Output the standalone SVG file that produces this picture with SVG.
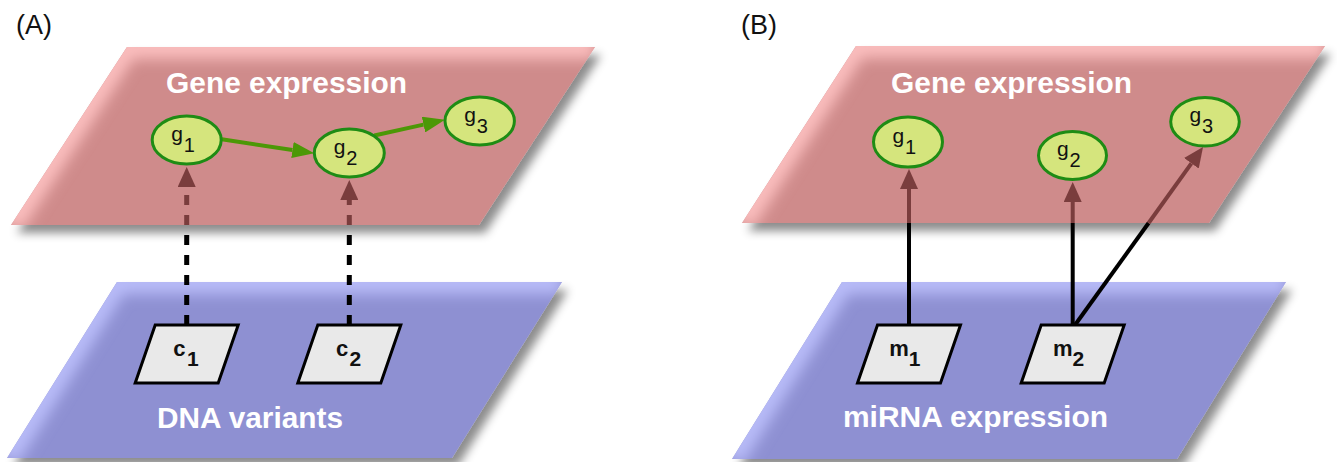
<svg xmlns="http://www.w3.org/2000/svg" width="1337" height="462" viewBox="0 0 1337 462">
<defs>
<style>
text{font-family:"Liberation Sans",Arial,Helvetica,sans-serif}
.panel{font-size:27px;fill:#111}
.layer{font-size:30px;font-weight:bold;fill:#fff}
.gene ellipse{fill:#d5e57d;stroke:#1e8c14;stroke-width:3}
.gene text{font-size:21px;fill:#111}
.gene .sub{font-size:20px}
.var polygon{fill:#e9e9e9;stroke:#000;stroke-width:3}
.var text{font-size:22px;font-weight:bold;fill:#111}
.var .sub{font-size:21px}
.pink{fill:#cf8b8b}
.blue{fill:#8e90d2}
.glowp{fill:none;stroke:#fabdbd;stroke-width:24}
.glowb{fill:none;stroke:#b8bbf8;stroke-width:24}
.green{stroke:#4c9806;stroke-width:4;fill:none}
.dash{stroke-dasharray:10 10;stroke-width:5;fill:none}
.solid{stroke-width:4;fill:none}
.blk{stroke:#000}
.mar{stroke:#7a3d3d}
</style>
<filter id="shadow" filterUnits="userSpaceOnUse" x="0" y="0" width="1337" height="462">
<feDropShadow dx="6" dy="8" stdDeviation="5" flood-color="#000" flood-opacity="0.45"/>
</filter>
<filter id="blur" filterUnits="userSpaceOnUse" x="0" y="0" width="1337" height="462">
<feGaussianBlur stdDeviation="7"/>
</filter>
<clipPath id="cpA"><polygon points="127,47 595,47 479,225 11,225"/></clipPath>
<clipPath id="cpB"><polygon points="856,46 1325,46 1209,223 742,223"/></clipPath>
<clipPath id="cpC"><polygon points="117,282 562,282 452,458 7,458"/></clipPath>
<clipPath id="cpD"><polygon points="842,282 1286,282 1177,459 732,459"/></clipPath>
<marker id="ahG" markerUnits="userSpaceOnUse" markerWidth="22" markerHeight="16" refX="0" refY="8" orient="auto" viewBox="0 0 22 16"><path d="M0,0 L22,8 L0,16 z" fill="#4c9806"/></marker>
<marker id="ahM" markerUnits="userSpaceOnUse" markerWidth="20" markerHeight="18" refX="0" refY="9" orient="auto" viewBox="0 0 20 18"><path d="M0,0 L20,9 L0,18 z" fill="#7a3d3d"/></marker>
</defs>
<rect width="1337" height="462" fill="#fff"/>

<g id="planes">
<g id="planeA-gene">
<polygon class="pink" filter="url(#shadow)" points="127,47 595,47 479,225 11,225"/>
<g clip-path="url(#cpA)"><polyline class="glowp" filter="url(#blur)" points="11,225 127,47 595,47"/></g>
</g>
<g id="planeA-dna">
<polygon class="blue" filter="url(#shadow)" points="117,282 562,282 452,458 7,458"/>
<g clip-path="url(#cpC)"><polyline class="glowb" filter="url(#blur)" points="7,458 117,282 562,282"/></g>
</g>
<g id="planeB-gene">
<polygon class="pink" filter="url(#shadow)" points="856,46 1325,46 1209,223 742,223"/>
<g clip-path="url(#cpB)"><polyline class="glowp" filter="url(#blur)" points="742,223 856,46 1325,46"/></g>
</g>
<g id="planeB-mirna">
<polygon class="blue" filter="url(#shadow)" points="842,282 1286,282 1177,459 732,459"/>
<g clip-path="url(#cpD)"><polyline class="glowb" filter="url(#blur)" points="732,459 842,282 1286,282"/></g>
</g>
</g>

<g id="labels">
<text class="panel" x="16" y="34">(A)</text>
<text class="panel" x="741" y="34">(B)</text>
<text class="layer" x="166" y="93" textLength="241" lengthAdjust="spacingAndGlyphs">Gene expression</text>
<text class="layer" x="891" y="93" textLength="241" lengthAdjust="spacingAndGlyphs">Gene expression</text>
<text class="layer" x="157" y="428" textLength="186" lengthAdjust="spacingAndGlyphs">DNA variants</text>
<text class="layer" x="843" y="427" textLength="265" lengthAdjust="spacingAndGlyphs">miRNA expression</text>
</g>

<g id="connectors">
<line class="green" x1="221.7" y1="139.3" x2="292.5" y2="150" marker-end="url(#ahG)"/>
<line class="green" x1="374.3" y1="135.5" x2="423.5" y2="124.6" marker-end="url(#ahG)"/>
<line class="dash blk" x1="186.7" y1="325" x2="186.7" y2="225"/>
<line class="dash mar" x1="186.7" y1="225" x2="186.7" y2="187" marker-end="url(#ahM)"/>
<line class="dash blk" x1="349.3" y1="325" x2="349.3" y2="225"/>
<line class="dash mar" x1="349.3" y1="225" x2="349.3" y2="200" marker-end="url(#ahM)"/>
<line class="solid blk" x1="909" y1="325" x2="909" y2="223"/>
<line class="solid mar" x1="909" y1="223" x2="909" y2="189" marker-end="url(#ahM)"/>
<line class="solid blk" x1="1072.7" y1="325" x2="1072.7" y2="223"/>
<line class="solid mar" x1="1072.7" y1="223" x2="1072.7" y2="202" marker-end="url(#ahM)"/>
<line class="solid blk" x1="1075" y1="325" x2="1148.6" y2="223"/>
<line class="solid mar" x1="1148.6" y1="223" x2="1191.4" y2="163.3" marker-end="url(#ahM)"/>
</g>

<g id="A-g1" class="gene"><ellipse cx="186.7" cy="140" rx="34.5" ry="24"/><text x="171.2" y="140.5">g</text><text class="sub" x="183.7" y="151.5">1</text></g>
<g id="A-g2" class="gene"><ellipse cx="349.3" cy="153" rx="35" ry="24"/><text x="333.8" y="153.5">g</text><text class="sub" x="346.3" y="164.5">2</text></g>
<g id="A-g3" class="gene"><ellipse cx="479.7" cy="121" rx="34.7" ry="24"/><text x="464.2" y="121.5">g</text><text class="sub" x="476.7" y="132.5">3</text></g>

<g id="A-c1" class="var"><polygon points="155.2,325 238.2,325 218.2,383 135.2,383"/><text x="173.3" y="356">c</text><text class="sub" x="187" y="365.5">1</text></g>
<g id="A-c2" class="var"><polygon points="317.8,325 400.8,325 380.8,383 297.8,383"/><text x="335.9" y="356">c</text><text class="sub" x="349.6" y="365.5">2</text></g>

<g id="B-g1" class="gene"><ellipse cx="908" cy="142" rx="34.5" ry="25"/><text x="892.5" y="142.5">g</text><text class="sub" x="905" y="153.5">1</text></g>
<g id="B-g2" class="gene"><ellipse cx="1072.5" cy="155.5" rx="34" ry="24"/><text x="1057" y="156">g</text><text class="sub" x="1069.5" y="167">2</text></g>
<g id="B-g3" class="gene"><ellipse cx="1205" cy="121.7" rx="34.3" ry="24.3"/><text x="1189.5" y="122.2">g</text><text class="sub" x="1202" y="133.2">3</text></g>

<g id="B-m1" class="var"><polygon points="877.5,325 960.5,325 940.5,383 857.5,383"/><text x="889.3" y="356">m</text><text class="sub" x="908.8" y="366">1</text></g>
<g id="B-m2" class="var"><polygon points="1041.2,325 1124.2,325 1104.2,383 1021.2,383"/><text x="1053" y="356">m</text><text class="sub" x="1072.5" y="366">2</text></g>
</svg>
